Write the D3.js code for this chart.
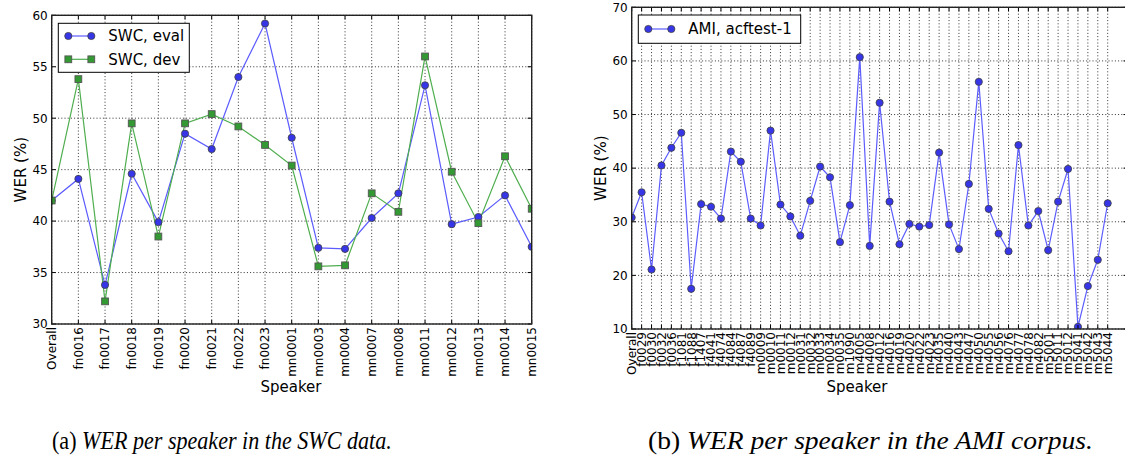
<!DOCTYPE html>
<html>
<head>
<meta charset="utf-8">
<script src="https://cdn.jsdelivr.net/npm/d3@7"></script>
<style>
  html, body { margin: 0; padding: 0; background: #fff; }
  svg { display: block; }
  text { font-family: "DejaVu Sans", sans-serif; fill: #000; }
  text.caption { font-family: "Liberation Serif", "DejaVu Serif", serif; }
</style>
</head>
<body>
<svg id="fig" width="1125" height="457"></svg>
<script>
// ---- SWC data (panel a) ----
const swcSpeakers = ["Overall","fn0016","fn0017","fn0018","fn0019","fn0020","fn0021","fn0022","fn0023",
  "mn0001","mn0003","mn0004","mn0007","mn0008","mn0011","mn0012","mn0013","mn0014","mn0015"];
const swcEval = [42.0,44.1,33.8,44.6,39.9,48.5,47.0,54.0,59.2,48.1,37.4,37.3,40.3,42.7,53.2,39.7,40.4,42.5,37.5];
const swcDev  = [42.0,53.8,32.2,49.5,38.5,49.5,50.4,49.2,47.4,45.4,35.6,35.7,42.7,40.9,56.0,44.8,39.8,46.3,41.2];
const swcYTicks = [30,35,40,45,50,55,60];

// ---- AMI data (panel b) ----
const amiSpeakers = ["Overall","f0029","f0030","f0032","f0036","f1081","f1088","f1407","f4041","f4074","f4084",
  "f4087","f4089","m0009","m0010","m0011","m0012","m0031","m0032","m0033","m0034","m0035","m1090",
  "m4005","m4008","m4012","m4016","m4019","m4020","m4022","m4023","m4035","m4040","m4043","m4047",
  "m4050","m4055","m4056","m4076","m4077","m4078","m4082","m5001","m5011","m5012","m5041","m5042",
  "m5043","m5044"];
const amiWer = [30.8,35.5,21.1,40.5,43.8,46.6,17.5,33.3,32.8,30.6,43.1,41.2,30.6,29.3,47.0,33.2,31.0,27.4,
  33.9,40.3,38.3,26.2,33.1,60.7,25.5,52.2,33.75,25.8,29.6,29.1,29.4,42.9,29.5,24.9,37.05,56.1,32.4,
  27.8,24.5,44.3,29.3,32.0,24.7,33.75,39.85,10.4,18.0,22.9,33.45];
const amiYTicks = [10,20,30,40,50,60,70];

const BLUE_LINE = "#5c5cff", BLUE_FILL = "#3636e8";
const GREEN_LINE = "#4fae4f", GREEN_FILL = "#339933";
const EDGE = "#404040";

const svg = d3.select("#fig");

function drawPanel(cfg) {
  const g = svg.append("g");
  const x = d3.scaleLinear().domain([0, cfg.categories.length - 1]).range([cfg.left, cfg.lastX]);
  const y = d3.scaleLinear().domain(cfg.yDomain).range([cfg.bottom, cfg.top]);
  const right = cfg.frameRight;

  const clipId = "clip-" + cfg.id;
  svg.append("defs").append("clipPath").attr("id", clipId)
    .append("rect").attr("x", cfg.left).attr("y", cfg.top)
    .attr("width", right - cfg.left).attr("height", cfg.bottom - cfg.top);

  // dotted grid
  const grid = g.append("g").attr("stroke", "#000").attr("stroke-width", 1)
    .attr("stroke-dasharray", "1,2.2").attr("opacity", 0.8);
  grid.selectAll("line.v").data(d3.range(cfg.categories.length)).join("line")
    .attr("x1", d => x(d)).attr("x2", d => x(d)).attr("y1", cfg.top).attr("y2", cfg.bottom);
  grid.selectAll("line.h").data(cfg.yTicks).join("line")
    .attr("x1", cfg.left).attr("x2", right).attr("y1", d => y(d)).attr("y2", d => y(d));

  // series
  const plot = g.append("g").attr("clip-path", `url(#${clipId})`);
  const line = d3.line().x((d, i) => x(i)).y(d => y(d));
  cfg.series.forEach(s => {
    plot.append("path").datum(s.values).attr("d", line)
      .attr("fill", "none").attr("stroke", s.line).attr("stroke-width", 1.2);
  });
  cfg.series.forEach(s => {
    const mk = plot.append("g");
    if (s.marker === "circle") {
      mk.selectAll("circle").data(s.values).join("circle")
        .attr("cx", (d, i) => x(i)).attr("cy", d => y(d)).attr("r", 3.6)
        .attr("fill", s.fill).attr("stroke", EDGE).attr("stroke-width", 0.8);
    } else {
      mk.selectAll("rect").data(s.values).join("rect")
        .attr("x", (d, i) => x(i) - 3.4).attr("y", d => y(d) - 3.4)
        .attr("width", 6.8).attr("height", 6.8)
        .attr("fill", s.fill).attr("stroke", "#555").attr("stroke-width", 0.9);
    }
  });

  // inward ticks on all four sides
  const tk = g.append("g").attr("stroke", "#000").attr("stroke-width", 1);
  d3.range(cfg.categories.length).forEach(i => {
    tk.append("line").attr("x1", x(i)).attr("x2", x(i)).attr("y1", cfg.bottom).attr("y2", cfg.bottom - 4);
    tk.append("line").attr("x1", x(i)).attr("x2", x(i)).attr("y1", cfg.top).attr("y2", cfg.top + 4);
  });
  cfg.yTicks.forEach(v => {
    tk.append("line").attr("x1", cfg.left).attr("x2", cfg.left + 4).attr("y1", y(v)).attr("y2", y(v));
    tk.append("line").attr("x1", right).attr("x2", right - 4).attr("y1", y(v)).attr("y2", y(v));
  });

  // frame
  g.append("rect").attr("x", cfg.left).attr("y", cfg.top)
    .attr("width", right - cfg.left).attr("height", cfg.bottom - cfg.top)
    .attr("fill", "none").attr("stroke", "#222").attr("stroke-width", 1.4);

  // y tick labels
  g.append("g").selectAll("text").data(cfg.yTicks).join("text")
    .attr("x", cfg.left - 4).attr("y", d => y(d)).attr("dy", "0.36em")
    .attr("text-anchor", "end").attr("font-size", 12).text(d => d);

  // x tick labels, rotated
  g.append("g").selectAll("text").data(cfg.categories).join("text")
    .attr("transform", (d, i) => `translate(${x(i)},${cfg.bottom + 3}) rotate(-90)`)
    .attr("text-anchor", "end").attr("dy", "0.36em").attr("font-size", 12).text(d => d);

  // axis titles
  g.append("text").attr("x", cfg.xTitleX).attr("y", 392).attr("text-anchor", "middle")
    .attr("font-size", 15).text("Speaker");
  g.append("text").attr("transform", `translate(${cfg.yTitleX},${(cfg.top + cfg.bottom) / 2}) rotate(-90)`)
    .attr("text-anchor", "middle").attr("font-size", 15).text("WER (%)");

  // legend
  const lg = cfg.legend;
  const lgG = g.append("g");
  lgG.append("rect").attr("x", lg.x).attr("y", lg.y).attr("width", lg.w).attr("height", lg.h)
    .attr("fill", "#fff").attr("stroke", "#000").attr("stroke-width", 1);
  cfg.series.forEach((s, k) => {
    const cy = lg.y + lg.firstRow + k * lg.rowStep;
    const x1 = lg.x + 10, x2 = lg.x + 33;
    lgG.append("line").attr("x1", x1).attr("x2", x2).attr("y1", cy).attr("y2", cy)
      .attr("stroke", s.line).attr("stroke-width", 1.2);
    [x1, x2].forEach(px => {
      if (s.marker === "circle") {
        lgG.append("circle").attr("cx", px).attr("cy", cy).attr("r", 3.6)
          .attr("fill", s.fill).attr("stroke", EDGE).attr("stroke-width", 0.8);
      } else {
        lgG.append("rect").attr("x", px - 3.4).attr("y", cy - 3.4).attr("width", 6.8).attr("height", 6.8)
          .attr("fill", s.fill).attr("stroke", "#555").attr("stroke-width", 0.9);
      }
    });
    lgG.append("text").attr("x", lg.x + 50).attr("y", cy).attr("dy", "0.36em")
      .attr("font-size", 15).text(s.name);
  });
}

drawPanel({
  id: "swc", categories: swcSpeakers, yDomain: [30, 60], yTicks: swcYTicks,
  left: 51.7, lastX: 531.7, frameRight: 531.7, top: 15.3, bottom: 324,
  xTitleX: 291, yTitleX: 26,
  series: [
    { name: "SWC, eval", values: swcEval, line: BLUE_LINE, fill: BLUE_FILL, marker: "circle" },
    { name: "SWC, dev", values: swcDev, line: GREEN_LINE, fill: GREEN_FILL, marker: "square" }
  ],
  legend: { x: 58.3, y: 23.3, w: 131, h: 49, firstRow: 12.7, rowStep: 23.3 }
});

drawPanel({
  id: "ami", categories: amiSpeakers, yDomain: [10, 70], yTicks: amiYTicks,
  left: 631.7, lastX: 1107.7, frameRight: 1127.5, top: 7.3, bottom: 329,
  xTitleX: 857, yTitleX: 606,
  series: [
    { name: "AMI, acftest-1", values: amiWer, line: BLUE_LINE, fill: BLUE_FILL, marker: "circle" }
  ],
  legend: { x: 638.3, y: 15, w: 162.4, h: 28.3, firstRow: 14, rowStep: 0 }
});

// captions beneath each panel
function caption(label, body, x0, targetWidth) {
  const t = svg.append("text").attr("class", "caption").attr("x", x0).attr("y", 449)
    .attr("font-size", 26);
  t.append("tspan").style("font-style", "normal").text(label + " ");
  t.append("tspan").style("font-style", "italic").text(body);
  const w = t.node().getComputedTextLength();
  const s = targetWidth / w;
  t.attr("transform", `translate(${x0},0) scale(${s},1) translate(${-x0},0)`);
}
caption("(a)", "WER per speaker in the SWC data.", 52, 340);
caption("(b)", "WER per speaker in the AMI corpus.", 648, 445);
</script>
</body>
</html>
